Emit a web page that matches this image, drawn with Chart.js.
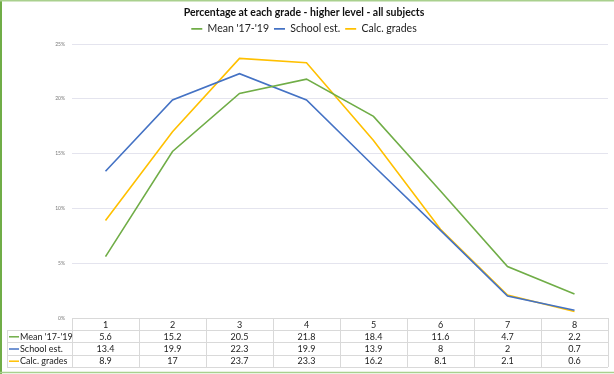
<!DOCTYPE html>
<html><head><meta charset="utf-8">
<script src="https://cdn.jsdelivr.net/npm/chart.js@4.4.1/dist/chart.umd.min.js"></script>
<style>html,body{margin:0;padding:0;background:#fff;}#wrap{width:614px;height:374px;position:relative;}</style>
</head><body><div id="wrap"><canvas id="c" width="614" height="374"></canvas></div>
<script>
const categories = ['1','2','3','4','5','6','7','8'];
const meanValues = [5.6, 15.2, 20.5, 21.8, 18.4, 11.6, 4.7, 2.2];
const schoolValues = [13.4, 19.9, 22.3, 19.9, 13.9, 8, 2, 0.7];
const calcValues = [8.9, 17, 23.7, 23.3, 16.2, 8.1, 2.1, 0.6];
const seriesNames = ["Mean '17-'19", 'School est.', 'Calc. grades'];
const yTicks = [0, 5, 10, 15, 20, 25];
const chartTitle = 'Percentage at each grade - higher level - all subjects';

const colors = ['#70AD47', '#4472C4', '#FFC000'];
const FONT = 'Lato, "Open Sans", sans-serif';

const tablePlugin = {
  id: 'dataTable',
  afterDraw(chart) {
    const ctx = chart.ctx;
    const x = chart.scales.x;
    const area = chart.chartArea;
    const rowH = 12.2;
    const top = area.bottom;
    const left = area.left, right = area.right;
    const labelLeft = 7;
    const n = categories.length;
    const colW = (right - left) / n;
    ctx.save();
    ctx.strokeStyle = '#d9d9d9';
    ctx.lineWidth = 1;
    for (let r = 0; r <= 4; r++) {
      const y = Math.round(top + r * rowH) + 0.5;
      ctx.beginPath();
      ctx.moveTo(r === 0 ? left : labelLeft, y);
      ctx.lineTo(right, y);
      ctx.stroke();
    }
    ctx.beginPath();
    ctx.moveTo(labelLeft + 0.5, Math.round(top + rowH));
    ctx.lineTo(labelLeft + 0.5, Math.round(top + 4 * rowH));
    ctx.stroke();
    for (let i = 0; i <= n; i++) {
      const vx = Math.round(left + i * colW) + 0.5;
      ctx.beginPath();
      ctx.moveTo(vx, Math.round(top));
      ctx.lineTo(vx, Math.round(top + 4 * rowH));
      ctx.stroke();
    }
    ctx.fillStyle = '#222';
    ctx.font = '9px ' + FONT;
    ctx.textAlign = 'center';
    ctx.textBaseline = 'middle';
    categories.forEach((c, i) => {
      ctx.fillText(c, x.getPixelForValue(i), top + rowH * 0.5 + 0.5);
    });
    const all = [meanValues, schoolValues, calcValues];
    all.forEach((vals, r) => {
      const cy = top + rowH * (r + 1.5) + 0.5;
      ctx.strokeStyle = colors[r];
      ctx.lineWidth = 1.5;
      ctx.beginPath();
      ctx.moveTo(labelLeft + 2, cy);
      ctx.lineTo(labelLeft + 12, cy);
      ctx.stroke();
      ctx.textAlign = 'left';
      ctx.fillStyle = '#222';
      ctx.fillText(seriesNames[r], labelLeft + 13, cy);
      ctx.textAlign = 'center';
      vals.forEach((v, i) => {
        ctx.fillText(String(v), x.getPixelForValue(i), cy);
      });
    });
    ctx.strokeStyle = '#70AD47';
    ctx.lineWidth = 2;
    ctx.beginPath(); ctx.moveTo(1, 0); ctx.lineTo(1, 374); ctx.stroke();
    ctx.strokeStyle = '#a9d08e';
    ctx.lineWidth = 1.5;
    ctx.beginPath(); ctx.moveTo(0, 0.75); ctx.lineTo(614, 0.75); ctx.stroke();
    ctx.beginPath(); ctx.moveTo(0, 372.5); ctx.lineTo(614, 372.5); ctx.stroke();
    ctx.restore();
  }
};

new Chart(document.getElementById('c'), {
  type: 'line',
  data: {
    labels: categories,
    datasets: [
      { label: seriesNames[0], data: meanValues, borderColor: colors[0], backgroundColor: colors[0], borderWidth: 1.6 },
      { label: seriesNames[1], data: schoolValues, borderColor: colors[1], backgroundColor: colors[1], borderWidth: 1.6 },
      { label: seriesNames[2], data: calcValues, borderColor: colors[2], backgroundColor: colors[2], borderWidth: 1.6 }
    ]
  },
  options: {
    responsive: false,
    animation: false,
    devicePixelRatio: 1,
    elements: { line: { tension: 0 }, point: { radius: 0 } },
    layout: { padding: { left: 0, right: 6, top: 0, bottom: 56 } },
    plugins: {
      title: {
        display: true, text: chartTitle, color: '#111',
        font: { family: FONT, size: 10.5, weight: 'bold' },
        padding: { top: 6, bottom: 0 }
      },
      legend: {
        labels: {
          usePointStyle: true, pointStyle: 'line', pointStyleWidth: 11, color: '#222',
          font: { family: FONT, size: 10.5 }, boxWidth: 11, boxHeight: 8, padding: 5
        }
      },
      tooltip: { enabled: false }
    },
    scales: {
      x: { display: false, offset: true },
      y: {
        min: 0, max: 25,
        afterBuildTicks(s) { s.ticks = yTicks.map(v => ({ value: v })); },
        afterFit(s) { s.width = 72; },
        border: { display: false },
        grid: { color: '#e4e4ee', lineWidth: 1, drawTicks: false },
        ticks: { color: '#777', font: { family: FONT, size: 5 }, padding: 7, callback: v => v + '%' }
      }
    }
  },
  plugins: [tablePlugin]
});
</script></body></html>
